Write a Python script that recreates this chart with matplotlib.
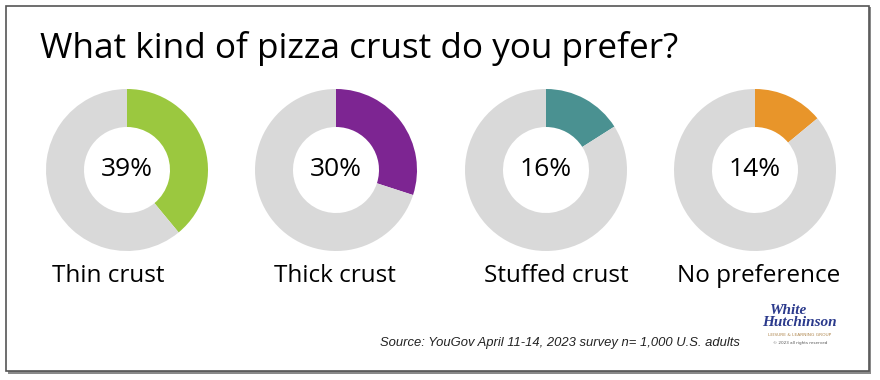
import matplotlib
matplotlib.use("Agg")
import matplotlib.pyplot as plt
from matplotlib.patches import Rectangle

categories = ["Thin crust", "Thick crust", "Stuffed crust", "No preference"]
percents = [39, 30, 16, 14]
colors = ["#9BC83F", "#7D2592", "#4A9191", "#E8952A"]
rest_color = "#D9D9D9"
title = "What kind of pizza crust do you prefer?"
source = "Source: YouGov April 11-14, 2023 survey n= 1,000 U.S. adults"

W, H = 880, 380
fig = plt.figure(figsize=(W / 100, H / 100), dpi=100)
ax = fig.add_axes([0, 0, 1, 1])
ax.set_xlim(0, W)
ax.set_ylim(0, H)
ax.set_aspect("equal")
ax.axis("off")

def py(y):
    return H - y

# frame with shadow
ax.add_patch(Rectangle((8, py(374)), 863, 367, facecolor="#8a8a8a", edgecolor="none", zorder=0))
ax.add_patch(Rectangle((6, py(371)), 863, 365, facecolor="white", edgecolor="#555555", linewidth=1.2, zorder=1))

FONT = "Open Sans"

ax.text(40, py(48), title, fontsize=25.3, family=FONT, ha="left", va="center", color="black", zorder=3)

centers_x = [127, 336, 546, 755]
label_x = [108, 335, 556, 759]
cy = 170
R = 81
ring = 38
for i, (cat, p, c) in enumerate(zip(categories, percents, colors)):
    ax.pie([p, 100 - p], colors=[c, rest_color], startangle=90, counterclock=False,
           center=(centers_x[i], py(cy)), radius=R,
           wedgeprops=dict(width=ring, edgecolor="none", linewidth=0), frame=True)
    ax.text(centers_x[i], py(cy), f"{p}%", fontsize=19, family=FONT, ha="center", va="center", zorder=4)
    ax.text(label_x[i], py(276), cat, fontsize=17.5, family=FONT,
            ha="center", va="center", zorder=4)

ax.set_xlim(0, W)
ax.set_ylim(0, H)
ax.axis("off")

ax.text(740, py(343), source, fontsize=9.4, family="Liberation Sans", style="italic",
        ha="right", va="center", color="#222222", zorder=4)

# logo
ax.text(789, py(311), "White", fontsize=11, family="Liberation Serif", style="italic", weight="bold",
        color="#2B3A8C", ha="center", va="center", zorder=4)
ax.text(799, py(323), "Hutchinson", fontsize=11, family="Liberation Serif", style="italic", weight="bold",
        color="#2B3A8C", ha="center", va="center", zorder=4)
ax.text(800, py(335), "LEISURE & LEARNING GROUP", fontsize=3.2, family="DejaVu Sans",
        color="#B08850", ha="center", va="center", zorder=4)
ax.text(800, py(343), "© 2023 all rights reserved", fontsize=3, family="DejaVu Sans",
        color="#555555", ha="center", va="center", zorder=4)

fig.savefig("out.png", dpi=100)
